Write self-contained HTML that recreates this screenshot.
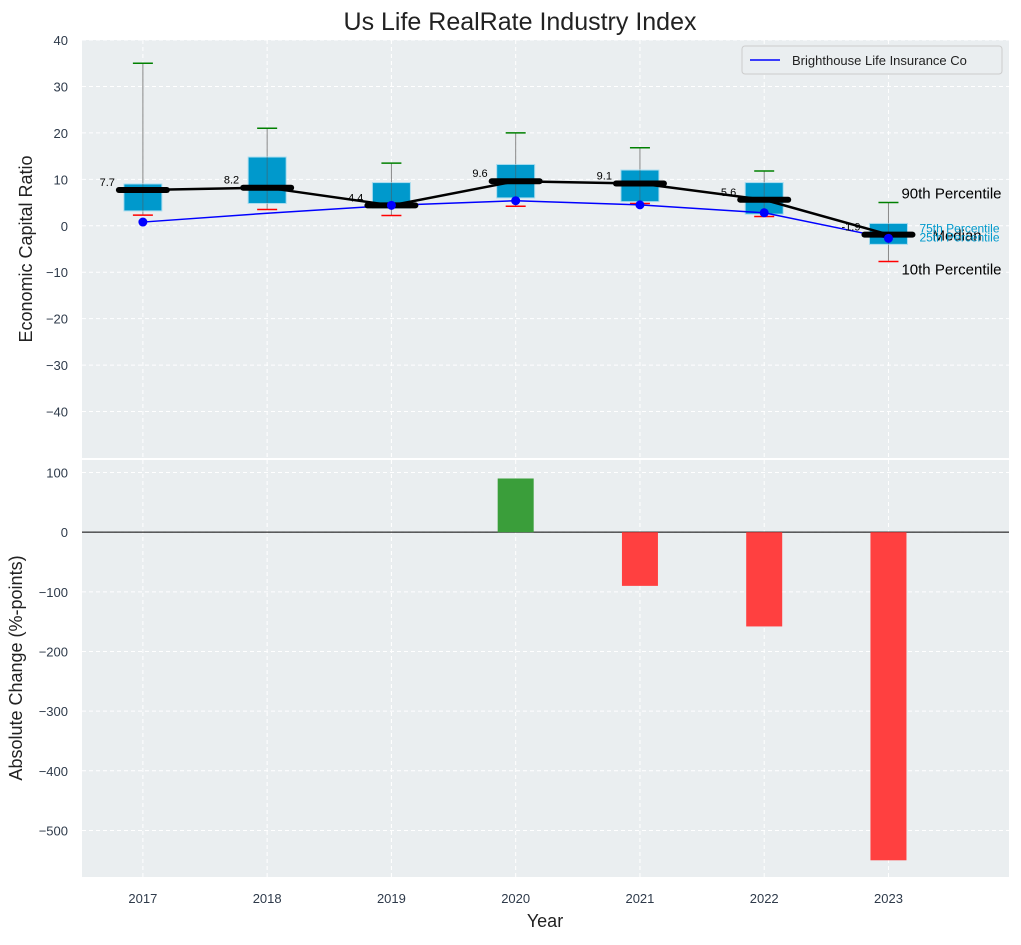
<!DOCTYPE html>
<html><head><meta charset="utf-8"><style>
body{margin:0;background:#fff;font-family:"Liberation Sans",sans-serif}
</style></head><body>
<svg id="c" width="1021" height="940" xmlns="http://www.w3.org/2000/svg" font-family="Liberation Sans, sans-serif"></svg>
<script>
const years=[2017,2018,2019,2020,2021,2022,2023];
const p10=[2.3,3.5,2.2,4.2,4.8,2.0,-7.7];
const q25=[3.2,4.8,3.8,6.0,5.2,2.5,-4.0];
const med=[7.7,8.2,4.4,9.6,9.1,5.6,-1.9];
const q75=[9.0,14.8,9.3,13.2,12.0,9.3,0.5];
const p90=[35,21,13.5,20,16.8,11.8,5];
const company=[0.8,2.7,4.4,5.4,4.5,2.8,-2.7];
const change=[0,0,0,90,-90,-158,-550];
const topTicks=[-40,-30,-20,-10,0,10,20,30,40];
const botTicks=[-500,-400,-300,-200,-100,0,100];

const svg=document.getElementById('c');
const NS='http://www.w3.org/2000/svg';
function el(t,a,p){const e=document.createElementNS(NS,t);for(const k in a)e.setAttribute(k,a[k]);(p||svg).appendChild(e);return e;}
const L=82,R=1009;
const x=v=>L+(v-2016.51)/(2023.97-2016.51)*(R-L);
const T0=40,T1=458,yT=v=>T0+(40-v)/90*(T1-T0);
const B0=460,B1=877,yB=v=>B0+(121-v)/699*(B1-B0);

let g=el('rect',{x:L,y:T0,width:R-L,height:T1-T0,fill:'#eaeef0'});

g=el('rect',{x:L,y:B0,width:R-L,height:B1-B0,fill:'#eaeef0'});


years.forEach(yr=>{
  el('line',{x1:x(yr),x2:x(yr),y1:T0,y2:T1,stroke:'#fff','stroke-dasharray':'4,3'});
  el('line',{x1:x(yr),x2:x(yr),y1:B0,y2:B1,stroke:'#fff','stroke-dasharray':'4,3'});
  const t=el('text',{x:x(yr),y:903,'text-anchor':'middle','font-size':13,fill:'#2e3a4a'});t.textContent=yr;
  
});
topTicks.forEach(v=>{
  el('line',{x1:L,x2:R,y1:yT(v),y2:yT(v),stroke:'#fff','stroke-dasharray':'4,3'});
  const t=el('text',{x:68,y:yT(v)+5,'text-anchor':'end','font-size':13,fill:'#2e3a4a'});t.textContent=v<0?'\u2212'+(-v):v;
  
});
botTicks.forEach(v=>{
  el('line',{x1:L,x2:R,y1:yB(v),y2:yB(v),stroke:'#fff','stroke-dasharray':'4,3'});
  const t=el('text',{x:68,y:yB(v)+5,'text-anchor':'end','font-size':13,fill:'#2e3a4a'});t.textContent=v<0?'\u2212'+(-v):v;
  
});

years.forEach((yr,i)=>{
  const cx=x(yr);
  el('line',{x1:cx,x2:cx,y1:yT(p90[i]),y2:yT(p10[i]),stroke:'#888','stroke-width':1});
  const b=el('rect',{x:cx-19,y:yT(q75[i]),width:38,height:yT(q25[i])-yT(q75[i]),fill:'#0099cc',stroke:'#a8dcef','stroke-width':1});
  
  el('line',{x1:cx,x2:cx,y1:yT(q75[i]),y2:yT(q25[i]),stroke:'#555','stroke-width':1,opacity:0.5});
  const c1=el('line',{x1:cx-10,x2:cx+10,y1:yT(p90[i]),y2:yT(p90[i]),stroke:'green','stroke-width':1.5});
  
  const c2=el('line',{x1:cx-10,x2:cx+10,y1:yT(p10[i]),y2:yT(p10[i]),stroke:'red','stroke-width':1.5});
  
});
let pc=el('polyline',{points:years.map((yr,i)=>x(yr)+','+yT(company[i])).join(' '),fill:'none',stroke:'blue','stroke-width':1.5});

let pm=el('polyline',{points:years.map((yr,i)=>x(yr)+','+yT(med[i])).join(' '),fill:'none',stroke:'#000','stroke-width':2.5});

years.forEach((yr,i)=>{
  const cx=x(yr);
  const m=el('line',{x1:cx-24,x2:cx+24,y1:yT(med[i]),y2:yT(med[i]),stroke:'#000','stroke-width':6,'stroke-linecap':'round'});
  
  if(i!==1){const d=el('circle',{cx:cx,cy:yT(company[i]),r:4.5,fill:'blue'});
  }
  const t=el('text',{x:cx-28,y:yT(med[i])-4,'text-anchor':'end','font-size':11,fill:'#000'});t.textContent=med[i].toFixed(1);
  
});
const lx=x(2023);const li=6;
[['90th Percentile',yT(p90[li])-4,'#000',15,13],['10th Percentile',yT(p10[li])+13,'#000',15,13],['Median',yT(med[li])+6,'#000',15,44],['75th Percentile',yT(q75[li])+9,'#0099cc',12,31],['25th Percentile',yT(q25[li])-3,'#0099cc',12,31]].forEach(a=>{
  const t=el('text',{x:lx+a[4],y:a[1],'font-size':a[3],fill:a[2]});t.textContent=a[0];
  
});
g=el('g',{});
el('rect',{x:742,y:46,width:260,height:28,fill:'#eaeef0',stroke:'#ccc',rx:3},g);
el('line',{x1:750,x2:780,y1:60,y2:60,stroke:'blue','stroke-width':1.5},g);
let lt=el('text',{x:792,y:65,'font-size':13,fill:'#222'},g);lt.textContent='Brighthouse Life Insurance Co';

el('line',{x1:L,x2:R,y1:yB(0),y2:yB(0),stroke:'#000','stroke-width':1});
years.forEach((yr,i)=>{
  if(!change[i])return;
  const v=change[i];
  const b=el('rect',{x:x(yr)-18,y:Math.min(yB(v),yB(0)),width:36,height:Math.abs(yB(v)-yB(0)),fill:v>0?'#3a9e3a':'#ff4040'});
  
});

let t=el('text',{x:520,y:30,'text-anchor':'middle','font-size':25,fill:'#222'});t.textContent='Us Life RealRate Industry Index';

t=el('text',{x:545,y:927,'text-anchor':'middle','font-size':18,fill:'#222'});t.textContent='Year';

t=el('text',{x:32,y:249,'text-anchor':'middle','font-size':18,fill:'#222',transform:'rotate(-90 32 249)'});t.textContent='Economic Capital Ratio';

t=el('text',{x:22,y:668,'text-anchor':'middle','font-size':18,fill:'#222',transform:'rotate(-90 22 668)'});t.textContent='Absolute Change (%-points)';

</script>
</body></html>
